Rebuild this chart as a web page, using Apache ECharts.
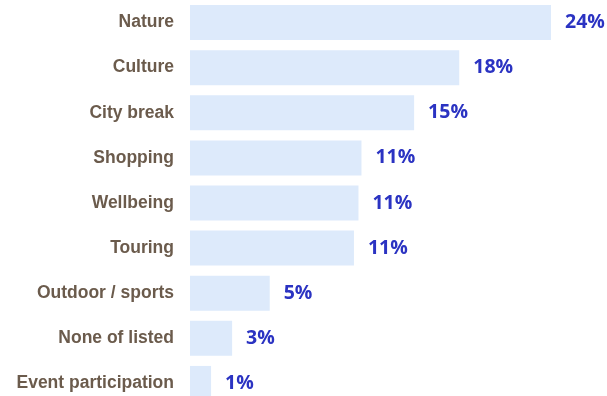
<!DOCTYPE html>
<html>
<head>
<meta charset="utf-8">
<style>
  html, body { margin: 0; padding: 0; background: #ffffff; }
  #chart { width: 607px; height: 396px; }
</style>
<script src="https://cdn.jsdelivr.net/npm/echarts@6/dist/echarts.min.js"></script>
</head>
<body>
<div id="chart"></div>
<script>
// Travel interest categories, top to bottom
const categories = [
  'Nature', 'Culture', 'City break', 'Shopping', 'Wellbeing',
  'Touring', 'Outdoor / sports', 'None of listed', 'Event participation'
];
// Share of respondents (%)
const shares = [24.0, 17.9, 14.9, 11.4, 11.2, 10.9, 5.3, 2.8, 1.4];

const chart = echarts.init(document.getElementById('chart'), null, { renderer: 'canvas' });

chart.setOption({
  animation: false,
  // the last band runs a little past the bottom edge
  grid: { left: 190, right: 0, top: 0, height: 406, outerBoundsMode: 'none', containLabel: false },
  xAxis: {
    type: 'value',
    min: 0,
    max: 24 * 417 / 361,
    show: false
  },
  yAxis: {
    type: 'category',
    data: categories,
    inverse: true,
    axisLine: { show: false },
    axisTick: { show: false },
    axisLabel: {
      margin: 16,
      color: '#6b5b4c',
      fontFamily: 'Liberation Sans, Arial, sans-serif',
      fontWeight: 'bold',
      fontSize: 17.5
    }
  },
  series: [{
    type: 'bar',
    data: shares,
    barWidth: 35,
    itemStyle: { color: '#ddeafb' },
    label: {
      show: true,
      position: 'right',
      distance: 14,
      color: '#2b33c2',
      fontFamily: 'Open Sans, sans-serif',
      fontWeight: 'bold',
      fontSize: 19.5,
      formatter: p => Math.round(p.value) + '%'
    }
  }]
});
</script>
</body>
</html>
